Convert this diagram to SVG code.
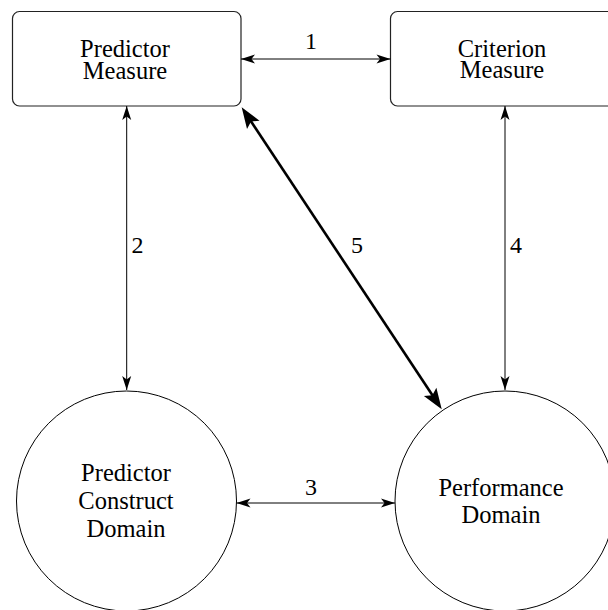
<svg xmlns="http://www.w3.org/2000/svg" width="608" height="610" viewBox="0 0 608 610">
  <style>
    .box { fill: #ffffff; stroke: #222; stroke-width: 1.2; }
    .circ { fill: #ffffff; stroke: #000; stroke-width: 1; }
    .lbl { font-size: 24.5px; fill: #000; text-anchor: middle; }
    .num { font-size: 24px; fill: #000; text-anchor: middle; }
    .thin { stroke: #000; stroke-width: 1; fill: none; marker-start: url(#ah); marker-end: url(#ah); }
    .thick { stroke: #000; stroke-width: 2.6; fill: none; marker-start: url(#ahb); marker-end: url(#ahb); }
  </style>
  <defs>
    <marker id="ah" markerUnits="userSpaceOnUse" viewBox="-20 -10 30 20" markerWidth="30" markerHeight="20" refX="0" refY="0" orient="auto-start-reverse" overflow="visible">
      <path d="M0,0 L-14,-4.5 L-10.5,0 L-14,4.5 Z" fill="#000"/>
    </marker>
    <marker id="ahb" markerUnits="userSpaceOnUse" viewBox="-25 -12 40 24" markerWidth="40" markerHeight="24" refX="0" refY="0" orient="auto-start-reverse" overflow="visible">
      <path d="M12,0 L-9,-7.5 L-5,0 L-9,7.5 Z" fill="#000"/>
    </marker>
  </defs>

  <g font-family="Liberation Serif, DejaVu Serif, serif">
  <g id="predictor-measure">
    <rect class="box" x="12.5" y="11.5" width="228.5" height="94.5" rx="7" ry="7"/>
    <text class="lbl" x="125" y="56.5">Predictor</text>
    <text class="lbl" x="125" y="79">Measure</text>
  </g>

  <g id="criterion-measure">
    <rect class="box" x="390.5" y="11.5" width="228.5" height="94.5" rx="7" ry="7"/>
    <text class="lbl" x="502" y="56.5">Criterion</text>
    <text class="lbl" x="502" y="78">Measure</text>
  </g>

  <g id="predictor-construct-domain">
    <circle class="circ" cx="126.5" cy="501" r="110"/>
    <text class="lbl" x="126" y="480.5">Predictor</text>
    <text class="lbl" x="126" y="509">Construct</text>
    <text class="lbl" x="126" y="537">Domain</text>
  </g>

  <g id="performance-domain">
    <circle class="circ" cx="505" cy="501" r="110"/>
    <text class="lbl" x="501" y="495.5">Performance</text>
    <text class="lbl" x="501" y="522.5">Domain</text>
  </g>

  <g id="connectors">
    <line class="thin" x1="241" y1="59" x2="390.5" y2="59"/>
    <line class="thin" x1="126.7" y1="106" x2="126.7" y2="390"/>
    <line class="thin" x1="505" y1="106" x2="505" y2="390"/>
    <line class="thin" x1="236.5" y1="503" x2="395" y2="503"/>
    <line class="thick" x1="248.3" y1="117.3" x2="435.1" y2="399.3"/>
    <text class="num" x="311" y="48.5">1</text>
    <text class="num" x="137.5" y="253">2</text>
    <text class="num" x="311" y="495">3</text>
    <text class="num" x="516" y="253">4</text>
    <text class="num" x="357" y="253">5</text>
  </g>
  </g>
</svg>
